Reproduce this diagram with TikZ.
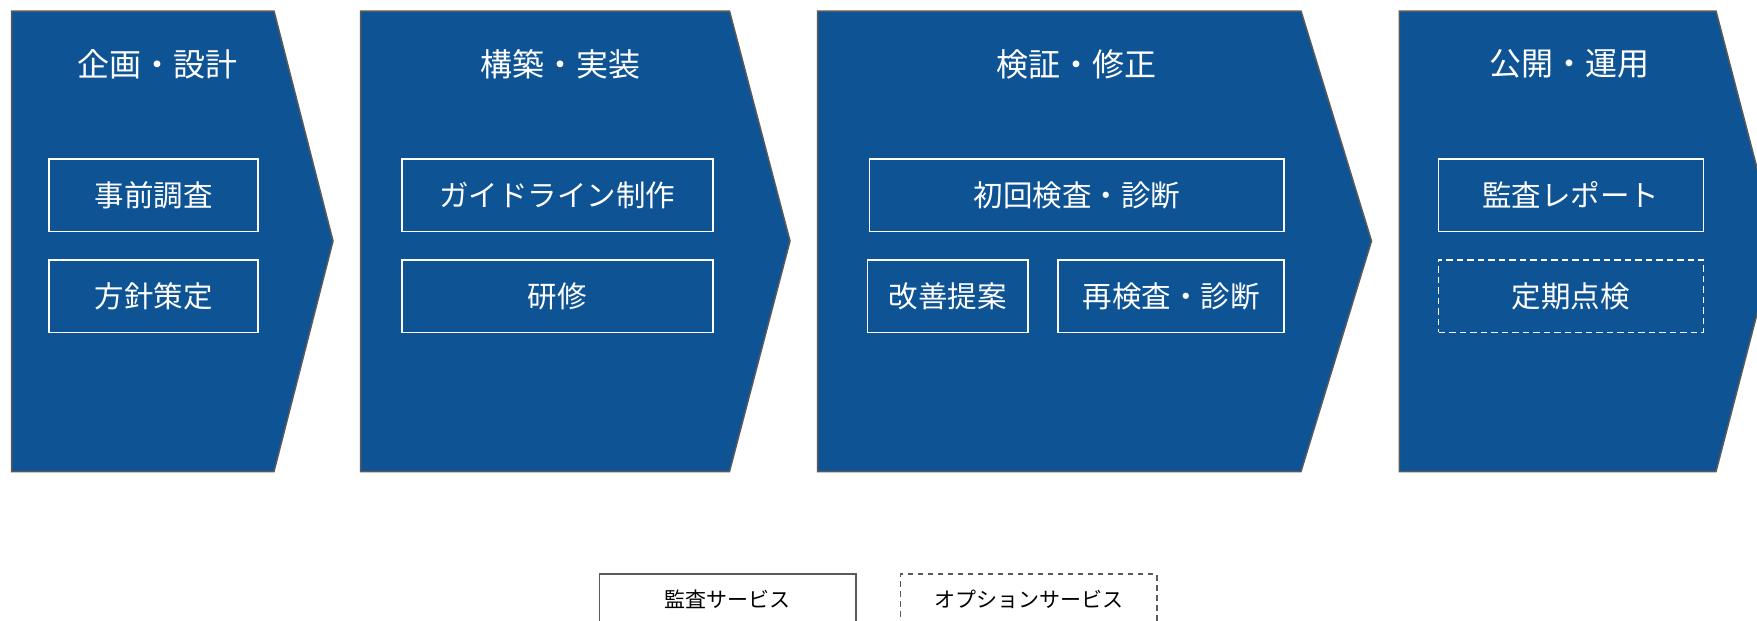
\documentclass[tikz,border=0pt]{standalone}
\usepackage{fontspec}
\newfontfamily\jp{Noto Sans CJK JP}
\definecolor{chev}{RGB}{14,83,148}
\definecolor{edge}{RGB}{90,90,90}
\begin{document}
\begin{tikzpicture}[x=1pt,y=-1pt,
  chevron/.style={fill=chev, draw=edge, line width=1.5pt, line join=miter},
  phasetitle/.style={text=white, font=\jp\fontsize{32}{32}\selectfont, inner sep=0pt},
  svc/.style={draw=white, line width=1.6pt, text=white, font=\jp\fontsize{29.5}{30}\selectfont, inner sep=0pt, minimum height=72.7pt},
  opt/.style={svc, dash pattern=on 6.5pt off 4pt},
  legendbox/.style={draw=edge, line width=1.5pt, text=black, font=\jp\fontsize{21}{21}\selectfont, inner sep=0pt, minimum height=50pt, minimum width=256.5pt},
  legenddash/.style={legendbox, dash pattern=on 5.5pt off 4.5pt}
]
\useasboundingbox (0,0) rectangle (1757,621);
\clip (0,0) rectangle (1757,621);

% chevrons
\draw[chevron] (11.5,11) -- (274,11) -- (333,241) -- (274,471.5) -- (11.5,471.5) -- cycle;
\draw[chevron] (360.7,11) -- (729.5,11) -- (790,241) -- (729.5,471.5) -- (360.7,471.5) -- cycle;
\draw[chevron] (817.5,11) -- (1301,11) -- (1371.5,241) -- (1301,471.5) -- (817.5,471.5) -- cycle;
\draw[chevron] (1399.3,11) -- (1716,11) -- (1776,241) -- (1716,471.5) -- (1399.3,471.5) -- cycle;

% titles
\node[phasetitle] (t1) at (157.4,64) {企画・設計};
\node[phasetitle] (t2) at (560.3,64) {構築・実装};
\node[phasetitle] (t3) at (1076.8,64) {検証・修正};
\node[phasetitle] (t4) at (1569.7,64) {公開・運用};

% service boxes
\node[svc, minimum width=209pt] (a1) at (153.5,195.3) {事前調査};
\node[svc, minimum width=209pt] (a2) at (153.5,296.1) {方針策定};
\node[svc, minimum width=311pt] (b1) at (557.2,195.3) {ガイドライン制作};
\node[svc, minimum width=311pt] (b2) at (557.2,296.1) {研修};
\node[svc, minimum width=414.5pt] (c1) at (1076.75,195.3) {初回検査・診断};
\node[svc, minimum width=160.2pt] (c2) at (947.6,296.1) {改善提案};
\node[svc, minimum width=226pt] (c3) at (1171,296.1) {再検査・診断};
\node[svc, minimum width=264.8pt] (d1) at (1570.9,195.3) {監査レポート};
\node[opt, minimum width=264.8pt] (d2) at (1570.9,296.1) {定期点検};

% legend
\node[legendbox] (l1) at (727.75,599) {監査サービス};
\node[legenddash] (l2) at (1028.5,599) {オプションサービス};
\end{tikzpicture}
\end{document}
